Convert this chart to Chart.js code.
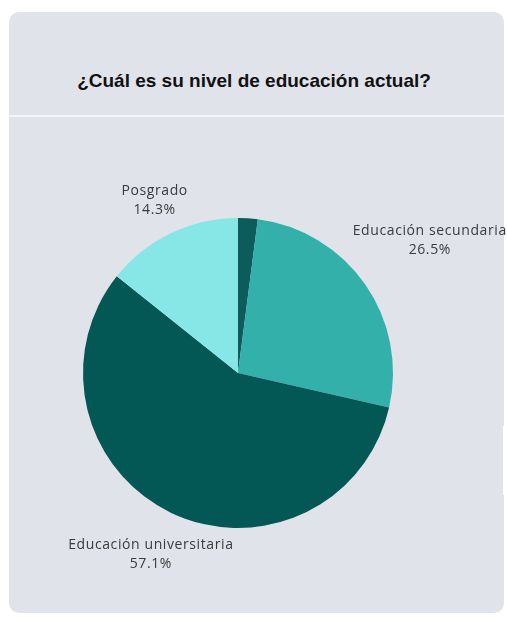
<!DOCTYPE html>
<html lang="es">
<head>
<meta charset="utf-8">
<title>Nivel de educación</title>
<script src="https://cdn.jsdelivr.net/npm/chart.js@4.4.1/dist/chart.umd.min.js"></script>
<style>
  html, body { margin: 0; padding: 0; background: #ffffff; }
  body { width: 507px; height: 621px; position: relative; overflow: hidden; }
  .card {
    position: absolute; left: 9px; top: 12px; width: 495px; height: 601px;
    background: #e1e3eb; border-radius: 10px; overflow: hidden;
  }
  .card-header {
    position: absolute; left: 0; top: 0; right: 0; height: 103px;
    border-bottom: 2px solid #f4f5f8;
  }
  .card-header h2 {
    position: absolute; left: 0; right: 0; top: 58px; margin: 0;
    text-align: center; font: bold 19px "Liberation Sans", Arial, sans-serif;
    color: #111111; padding-right: 5px;
  }
  .edge { position: absolute; left: 503px; top: 426px; width: 4px; height: 69px; background: #ffffff; }
  #chart { position: absolute; left: 0; top: 0; }
</style>
</head>
<body>
<div class="card">
  <div class="card-header"><h2>¿Cuál es su nivel de educación actual?</h2></div>
</div>
<div class="edge"></div>
<canvas id="chart" width="507" height="621"></canvas>
<script>
// survey answers (number of people per level)
const categories = ["Educación primaria", "Educación secundaria", "Educación universitaria", "Posgrado"];
const responses = [1, 13, 28, 7];
const sliceColors = ["#0b5c5b", "#34b0aa", "#035855", "#86e7e6"];
const minLabelPct = 5; // slices below this get no label

const total = responses.reduce((a, b) => a + b, 0);

// draws "name / pct%" outside each slice, pushed along the mid angle
// until the text box sits a few px away from the rim
const outsideLabels = {
  id: "outsideLabels",
  afterDatasetsDraw(chart) {
    const ctx = chart.ctx;
    const meta = chart.getDatasetMeta(0);
    const gap = 8;
    const lineH = 19;
    ctx.save();
    ctx.font = '14px "Open Sans", sans-serif';
    ctx.letterSpacing = "0.6px";
    ctx.fillStyle = "#3b3b3b";
    ctx.textAlign = "center";
    ctx.textBaseline = "middle";
    meta.data.forEach((arc, i) => {
      const pct = responses[i] / total * 100;
      if (pct < minLabelPct) return;
      const { x, y, startAngle, endAngle, outerRadius } = arc.getProps(
        ["x", "y", "startAngle", "endAngle", "outerRadius"], true);
      const mid = (startAngle + endAngle) / 2;
      const dx = Math.cos(mid), dy = Math.sin(mid);
      const lines = [categories[i], pct.toFixed(1) + "%"];
      const hw = Math.max(...lines.map(l => ctx.measureText(l).width)) / 2;
      const hh = lineH - 1;
      const want = outerRadius + gap;
      const boxDist = t => {
        const ox = Math.max(Math.abs(dx * t) - hw, 0);
        const oy = Math.max(Math.abs(dy * t) - hh, 0);
        return Math.hypot(ox, oy);
      };
      let lo = 0, hi = 600;
      for (let k = 0; k < 40; k++) {
        const m = (lo + hi) / 2;
        if (boxDist(m) < want) lo = m; else hi = m;
      }
      const cx = x + dx * lo, cy = y + dy * lo + 1;
      ctx.fillText(lines[0], cx, cy - lineH / 2);
      ctx.fillText(lines[1], cx, cy + lineH / 2);
    });
    ctx.restore();
  }
};

new Chart(document.getElementById("chart"), {
  type: "pie",
  data: {
    labels: categories,
    datasets: [{
      data: responses,
      backgroundColor: sliceColors,
      borderWidth: 0
    }]
  },
  options: {
    responsive: false,
    animation: false,
    layout: { padding: { left: 83, right: 114, top: 218, bottom: 93 } },
    plugins: {
      legend: { display: false },
      tooltip: { enabled: false }
    }
  },
  plugins: [outsideLabels]
});
</script>
</body>
</html>
